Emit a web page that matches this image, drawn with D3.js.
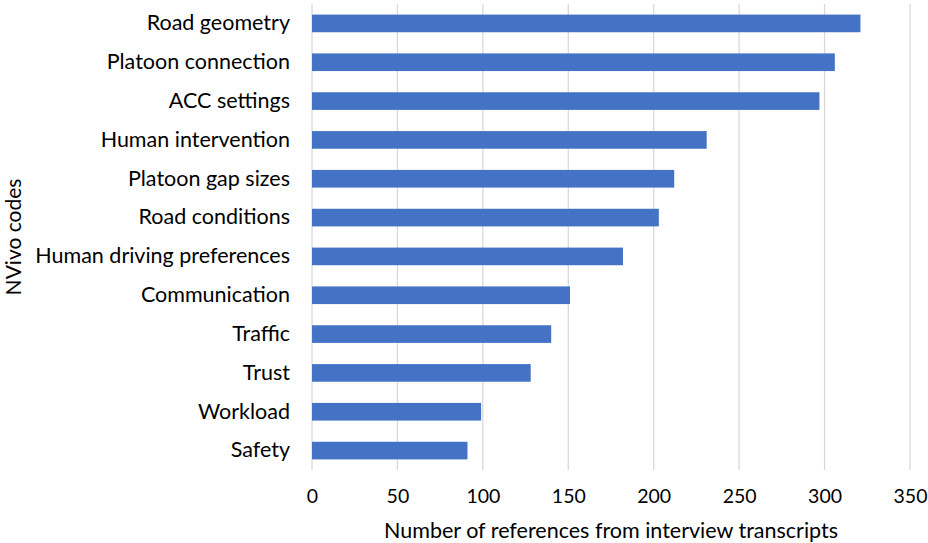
<!DOCTYPE html>
<html><head><meta charset="utf-8">
<script src="https://cdn.jsdelivr.net/npm/d3@7"></script>
<style>body{margin:0;background:#fff}svg{display:block}text{font-family:Lato,sans-serif;fill:#000}</style>
</head><body><svg id="c" width="928" height="543"></svg>
<script>
const categories = ["Road geometry","Platoon connection","ACC settings","Human intervention","Platoon gap sizes","Road conditions","Human driving preferences","Communication","Traffic","Trust","Workload","Safety"];
const values = [321,306,297,231,212,203,182,151,140,128,99,91];
const xTicks = [0,50,100,150,200,250,300,350];
const xTitle = "Number of references from interview transcripts";
const yTitle = "NVivo codes";

const svg = d3.select("#c");
const m = {left:312, right:18, top:4, bottom:73};
const W = 928, H = 543;
const x = d3.scaleLinear().domain([0,350]).range([m.left, W-m.right]);
const y = d3.scaleBand().domain(categories).range([m.top, H-m.bottom]).paddingInner(0.5455).paddingOuter(0.2727);

const grid = svg.append("g");
grid.selectAll("line").data(xTicks).join("line")
  .attr("x1", d=>x(d)).attr("x2", d=>x(d))
  .attr("y1", m.top).attr("y2", H-m.bottom)
  .attr("stroke", "#d9d9d9").attr("stroke-width", 1.3);

svg.append("g").selectAll("rect").data(values).join("rect")
  .attr("x", x(0)).attr("y", (d,i)=>y(categories[i]))
  .attr("width", d=>x(d)-x(0)).attr("height", y.bandwidth())
  .attr("fill", "#4472C4");

const xa = svg.append("g").attr("transform", `translate(0,${H-m.bottom})`)
  .call(d3.axisBottom(x).tickValues(xTicks).tickSize(0).tickPadding(19));
xa.select(".domain").remove();
xa.selectAll("text").style("font-size","19.5px").style("font-family","Lato,sans-serif").attr("fill","#000");

const ya = svg.append("g").attr("transform", `translate(${m.left},0)`)
  .call(d3.axisLeft(y).tickSize(0).tickPadding(22));
ya.select(".domain").remove();
ya.selectAll("text").style("font-size","21.5px").style("font-family","Lato,sans-serif").attr("fill","#000");

svg.append("text").attr("x", 611).attr("y", 538).attr("text-anchor","middle")
  .style("font-size","21.5px").text(xTitle);
svg.append("text").attr("transform","translate(21,237) rotate(-90)").attr("text-anchor","middle")
  .style("font-size","21px").text(yTitle);
</script></body></html>
